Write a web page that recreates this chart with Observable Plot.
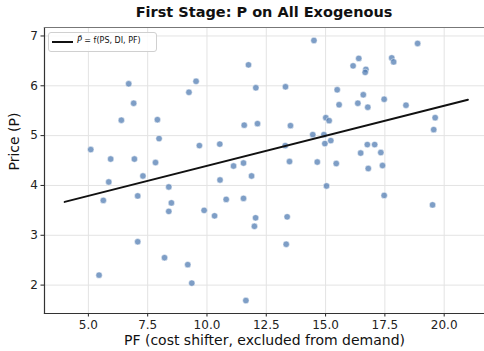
<!DOCTYPE html>
<html>
<head>
<meta charset="utf-8">
<script src="https://cdn.jsdelivr.net/npm/d3@7"></script>
<script src="https://cdn.jsdelivr.net/npm/@observablehq/plot@0.6"></script>
<style>
  html, body { margin: 0; padding: 0; background: #fff; overflow: hidden; }
  body { width: 484px; height: 351px; font-family: "DejaVu Sans", sans-serif; }
  #wrap { position: relative; width: 484px; height: 351px; }
  #title { position: absolute; left: 44px; width: 440px; top: 4px; text-align: center;
           font-weight: bold; font-size: 14.5px; line-height: 17px; color: #111; }
  #legend { position: absolute; left: 48px; top: 32px; width: 109px; height: 20px;
            border: 1px solid #d0d0d0; border-radius: 3px; background: rgba(255,255,255,0.85);
            box-sizing: border-box; font-size: 8px; color: #111; }
  #legend .swatch { position: absolute; left: 3px; top: 8px; width: 21px; height: 2px; background: #111; }
  #legend .lab { position: absolute; left: 28px; top: 3px; white-space: nowrap; }
</style>
</head>
<body>
<div id="wrap">
  <div id="chart"></div>
  <div id="title">First Stage: P on All Exogenous</div>
  <div id="legend"><div class="swatch"></div><div class="lab"><i>P̂</i> = f(PS, DI, PF)</div></div>
</div>
<script>
// Observed points: PF (cost shifter) and Price (P)
const pf = [6.70, 6.91, 6.39, 7.91, 9.24, 9.54, 11.75, 12.06, 13.31, 14.51,
            11.57, 12.13, 13.52, 15.01, 15.15, 14.46, 14.93, 18.88, 16.40, 16.16,
            16.70, 16.67, 17.79, 17.87, 15.49, 15.57, 16.59, 16.36, 16.78, 17.47,
            18.39, 19.62, 19.56, 5.10, 7.98, 5.94, 6.94, 7.83, 5.86, 7.30,
            5.63, 7.08, 8.39, 8.50, 8.39, 9.68, 10.54, 11.12, 11.54, 10.55,
            11.88, 13.30, 13.48, 14.65, 14.97, 15.04, 10.81, 11.54, 9.88, 10.32,
            12.05, 12.00, 13.38, 15.22, 16.76, 17.07, 16.48, 17.33, 15.45, 16.80,
            17.40, 17.47, 19.51, 7.08, 8.21, 5.45, 9.19, 9.36, 13.34, 11.64];
const price = [6.04, 5.65, 5.31, 5.32, 5.87, 6.09, 6.42, 5.96, 5.98, 6.91,
               5.21, 5.24, 5.20, 5.36, 5.30, 5.02, 5.02, 6.85, 6.55, 6.40,
               6.33, 6.27, 6.56, 6.48, 5.92, 5.62, 5.82, 5.65, 5.57, 5.73,
               5.61, 5.36, 5.12, 4.72, 4.94, 4.53, 4.53, 4.46, 4.07, 4.19,
               3.70, 3.79, 3.97, 3.65, 3.48, 4.80, 4.83, 4.39, 4.45, 4.11,
               4.19, 4.80, 4.48, 4.47, 4.84, 3.99, 3.72, 3.74, 3.50, 3.39,
               3.35, 3.18, 3.37, 4.90, 4.82, 4.82, 4.65, 4.66, 4.44, 4.34,
               4.40, 3.80, 3.61, 2.87, 2.55, 2.20, 2.41, 2.04, 2.82, 1.69];
// Fitted first-stage line endpoints
const fitX = [4, 21];
const fitY = [3.67, 5.72];
// Tick labels
const xTicks = [5, 7.5, 10, 12.5, 15, 17.5, 20];
const yTicks = [2, 3, 4, 5, 6, 7];

const points = pf.map((x, i) => ({x, y: price[i]}));
const fit = fitX.map((x, i) => ({x, y: fitY[i]}));

const chart = Plot.plot({
  width: 484,
  height: 351,
  marginLeft: 44,
  marginRight: 0,
  marginTop: 27,
  marginBottom: 38,
  style: {fontFamily: "DejaVu Sans, sans-serif", fontSize: "12px", color: "#222", background: "#fff"},
  x: {domain: [3.15, 21.70], ticks: xTicks, tickFormat: d => d.toFixed(1), label: null},
  y: {domain: [1.43, 7.17], ticks: yTicks, tickFormat: d => d.toFixed(0), label: null},
  marks: [
    Plot.gridX(xTicks, {stroke: "#e3e3e3", strokeOpacity: 1, strokeWidth: 1}),
    Plot.gridY(yTicks, {stroke: "#e3e3e3", strokeOpacity: 1, strokeWidth: 1}),
    Plot.axisX(xTicks, {tickSize: 3.5, tickPadding: 3, fontSize: 12, tickFormat: d => d.toFixed(1), label: null}),
    Plot.axisY(yTicks, {tickSize: 3.5, tickPadding: 3, fontSize: 12, tickFormat: d => d.toFixed(0), label: null}),
    Plot.dot(points, {x: "x", y: "y", r: 3.2, fill: "#4C78B0", fillOpacity: 0.72, stroke: "#fff", strokeWidth: 0.5}),
    Plot.line(fit, {x: "x", y: "y", stroke: "#111", strokeWidth: 2}),
    Plot.frame({anchor: "left", stroke: "#333", strokeWidth: 1.2}),
    Plot.frame({anchor: "bottom", stroke: "#333", strokeWidth: 1.2}),
    Plot.frame({anchor: "top", stroke: "#777", strokeWidth: 1.2}),
    Plot.text(["PF (cost shifter, excluded from demand)"], {frameAnchor: "bottom", dy: 31, fontSize: 14, fill: "#111", text: d => d}),
    Plot.text(["Price (P)"], {frameAnchor: "left", dx: -30, rotate: -90, fontSize: 14, fill: "#111", text: d => d})
  ]
});
document.getElementById("chart").appendChild(chart);
</script>
</body>
</html>
